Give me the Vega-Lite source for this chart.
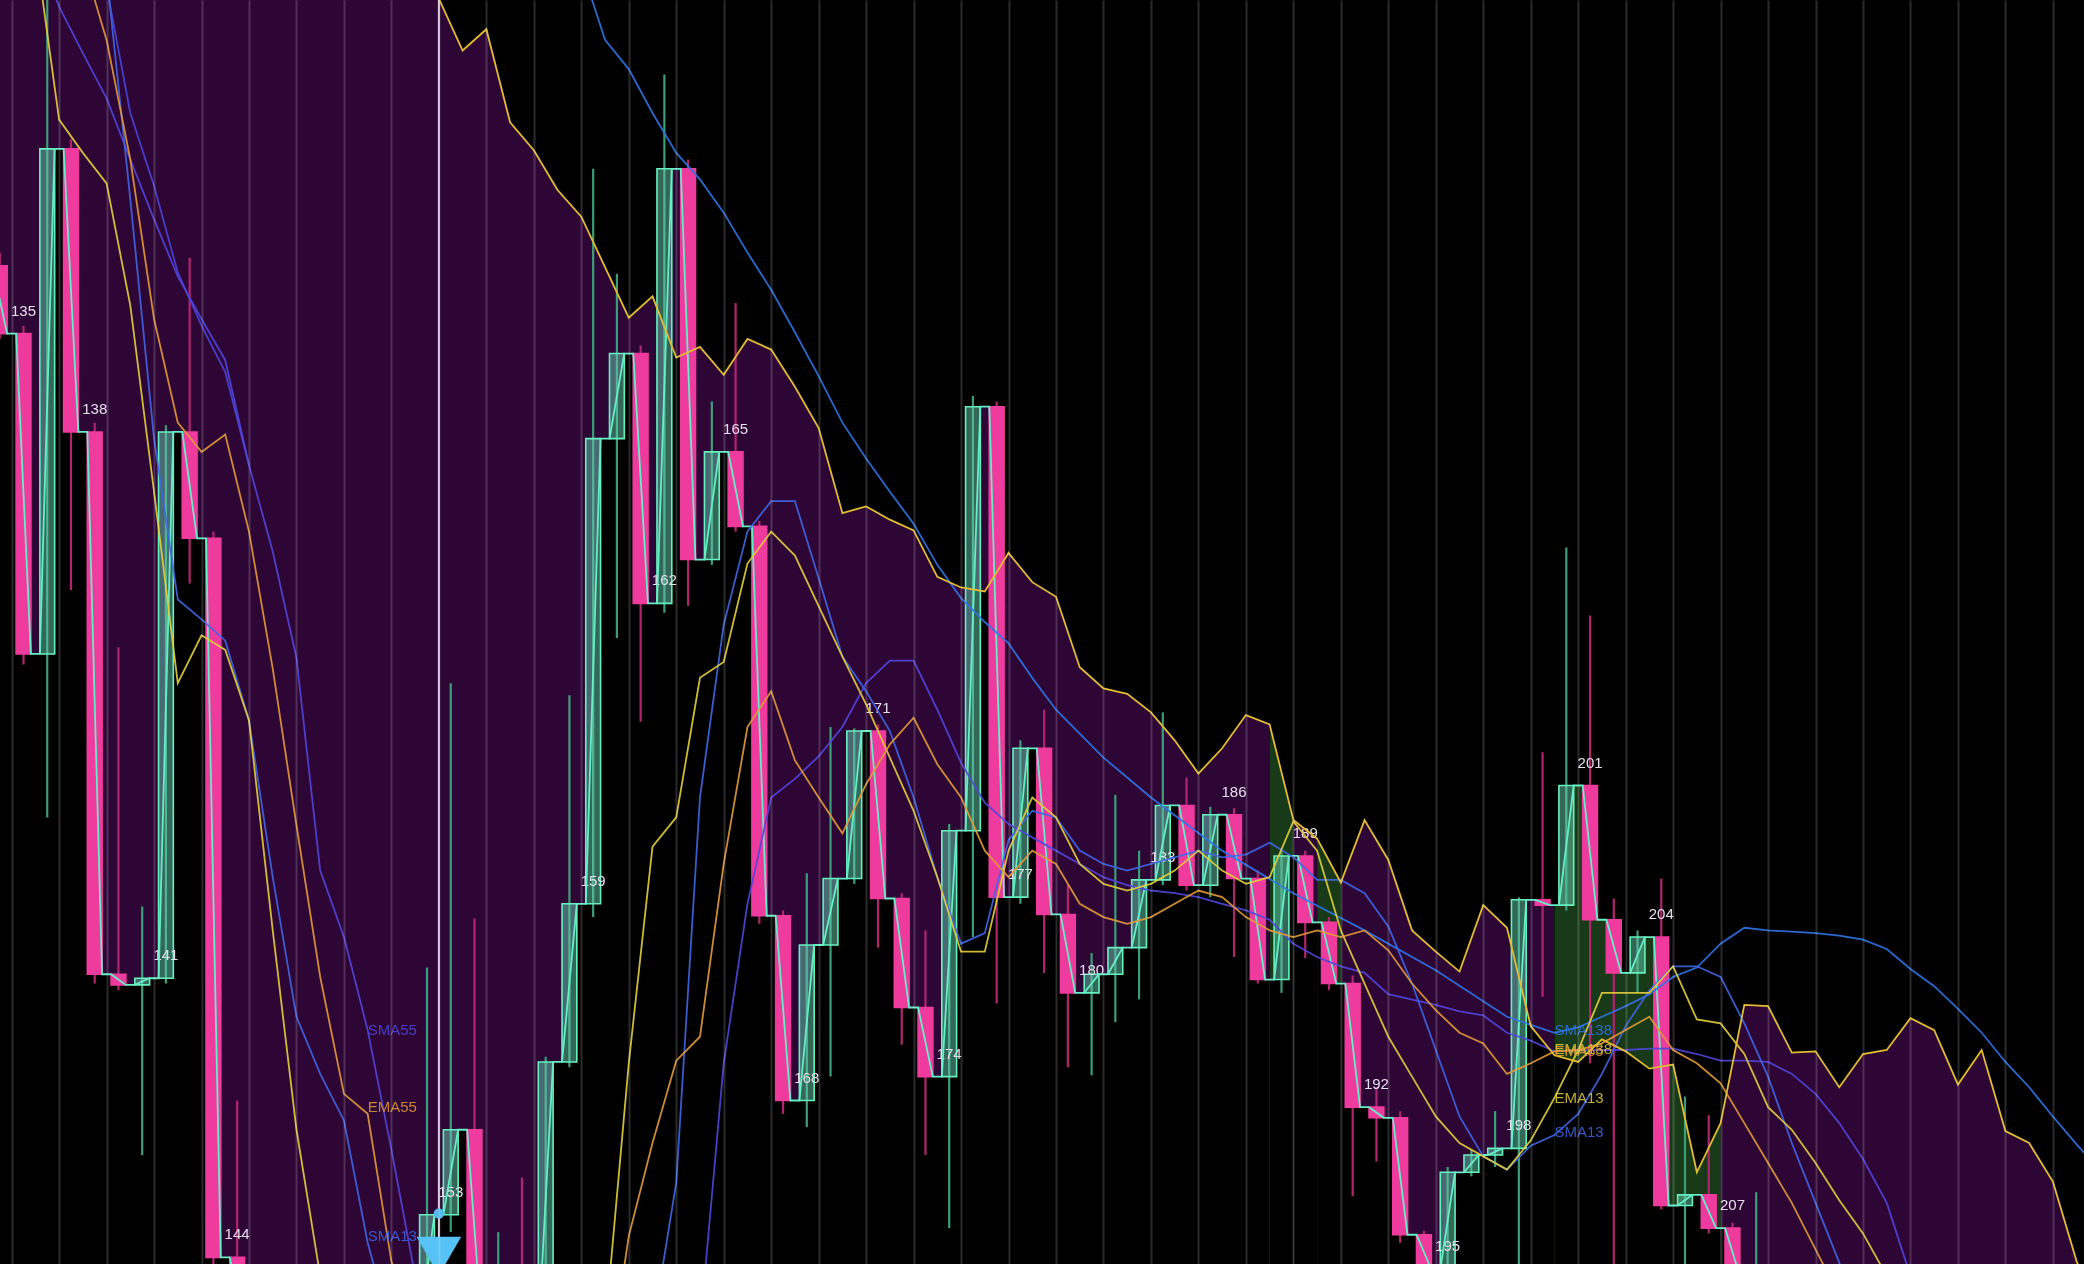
{
  "$schema": "https://vega.github.io/schema/vega-lite/v6.json",
  "width": 2084,
  "height": 1264,
  "autosize": "none",
  "padding": 0,
  "background": "#000000",
  "config": {"view": {"stroke": null, "fill": "#000000"}, "text": {"font": "Liberation Sans"}},
  "resolve": {"scale": {"color": "independent"}},
  "datasets": {
    "candles": [
      {"t":134,"o":751,"c":700,"h":761,"l":696},{"t":135,"o":700,"c":459,"h":706,"l":451},{"t":136,"o":459,"c":839,"h":981,"l":336},
      {"t":137,"o":839,"c":626,"h":846,"l":507},{"t":138,"o":626,"c":218,"h":633,"l":211},{"t":139,"o":218,"c":210,"h":464,"l":206},
      {"t":140,"o":210,"c":215,"h":269,"l":82},{"t":141,"o":215,"c":626,"h":631,"l":211},{"t":142,"o":626,"c":546,"h":757,"l":512},
      {"t":143,"o":546,"c":5,"h":551,"l":-1},{"t":144,"o":5,"c":-49,"h":123,"l":-59},{"t":145,"o":-49,"c":-79,"h":-39,"l":-89},
      {"t":146,"o":-79,"c":-59,"h":-49,"l":-89},{"t":147,"o":-59,"c":-99,"h":-54,"l":-109},{"t":148,"o":-99,"c":-84,"h":-74,"l":-109},
      {"t":149,"o":-84,"c":-114,"h":-79,"l":-124},{"t":150,"o":-114,"c":-89,"h":-84,"l":-119},{"t":151,"o":-89,"c":-49,"h":-39,"l":-99},
      {"t":152,"o":-49,"c":37,"h":223,"l":-59},{"t":153,"o":37,"c":101,"h":437,"l":24},{"t":154,"o":101,"c":-49,"h":260,"l":-59},
      {"t":155,"o":-49,"c":-34,"h":24,"l":-59},{"t":156,"o":-34,"c":-54,"h":65,"l":-64},{"t":157,"o":-54,"c":152,"h":156,"l":-59},
      {"t":158,"o":152,"c":271,"h":428,"l":148},{"t":159,"o":271,"c":621,"h":824,"l":261},{"t":160,"o":621,"c":685,"h":745,"l":471},
      {"t":161,"o":685,"c":497,"h":691,"l":408},{"t":162,"o":497,"c":824,"h":895,"l":490},{"t":163,"o":824,"c":530,"h":831,"l":495},
      {"t":164,"o":530,"c":611,"h":649,"l":526},{"t":165,"o":611,"c":555,"h":723,"l":551},{"t":166,"o":555,"c":262,"h":559,"l":256},
      {"t":167,"o":262,"c":123,"h":266,"l":113},{"t":168,"o":123,"c":240,"h":294,"l":103},{"t":169,"o":240,"c":290,"h":404,"l":141},
      {"t":170,"o":290,"c":401,"h":403,"l":286},{"t":171,"o":401,"c":275,"h":406,"l":238},{"t":172,"o":275,"c":193,"h":279,"l":165},
      {"t":173,"o":193,"c":141,"h":251,"l":82},{"t":174,"o":141,"c":326,"h":331,"l":27},{"t":175,"o":326,"c":645,"h":653,"l":246},
      {"t":176,"o":645,"c":276,"h":649,"l":196},{"t":177,"o":276,"c":388,"h":394,"l":271},{"t":178,"o":388,"c":263,"h":417,"l":219},
      {"t":179,"o":263,"c":204,"h":285,"l":148},{"t":180,"o":204,"c":218,"h":234,"l":142},{"t":181,"o":218,"c":238,"h":353,"l":182},
      {"t":182,"o":238,"c":289,"h":311,"l":199},{"t":183,"o":289,"c":345,"h":415,"l":285},{"t":184,"o":345,"c":285,"h":366,"l":281},
      {"t":185,"o":285,"c":338,"h":344,"l":276},{"t":186,"o":338,"c":290,"h":343,"l":231},{"t":187,"o":290,"c":214,"h":296,"l":211},
      {"t":188,"o":214,"c":307,"h":311,"l":204},{"t":189,"o":307,"c":257,"h":311,"l":230},{"t":190,"o":257,"c":211,"h":261,"l":206},
      {"t":191,"o":211,"c":118,"h":217,"l":51},{"t":192,"o":118,"c":110,"h":133,"l":77},{"t":193,"o":110,"c":22,"h":115,"l":16},
      {"t":194,"o":22,"c":-4,"h":25,"l":-49},{"t":195,"o":-4,"c":69,"h":73,"l":-9},{"t":196,"o":69,"c":82,"h":86,"l":66},
      {"t":197,"o":82,"c":87,"h":115,"l":73},{"t":198,"o":87,"c":274,"h":276,"l":-9},{"t":199,"o":274,"c":270,"h":385,"l":201},
      {"t":200,"o":270,"c":360,"h":539,"l":266},{"t":201,"o":360,"c":259,"h":488,"l":151},{"t":202,"o":259,"c":219,"h":275,"l":-9},
      {"t":203,"o":219,"c":246,"h":251,"l":204},{"t":204,"o":246,"c":44,"h":290,"l":41},{"t":205,"o":44,"c":52,"h":126,"l":-9},
      {"t":206,"o":52,"c":27,"h":112,"l":23},{"t":207,"o":27,"c":-9,"h":31,"l":-19},{"t":208,"o":-9,"c":-4,"h":54,"l":-39}
    ],
    "close": [
      {"t":133.69,"v":751,"r":"A"},{"t":134.31,"v":700,"r":"A"},{"t":134.69,"v":700,"r":"A"},{"t":135.31,"v":459,"r":"A"},
      {"t":135.69,"v":459,"r":"A"},{"t":136.31,"v":839,"r":"A"},{"t":136.69,"v":839,"r":"A"},{"t":137.31,"v":626,"r":"A"},
      {"t":137.69,"v":626,"r":"A"},{"t":138.31,"v":218,"r":"A"},{"t":138.69,"v":218,"r":"A"},{"t":139.31,"v":210,"r":"A"},
      {"t":139.69,"v":210,"r":"A"},{"t":140.31,"v":215,"r":"A"},{"t":140.69,"v":215,"r":"A"},{"t":141.31,"v":626,"r":"A"},
      {"t":141.69,"v":626,"r":"A"},{"t":142.31,"v":546,"r":"A"},{"t":142.69,"v":546,"r":"A"},{"t":143.31,"v":5,"r":"A"},
      {"t":143.69,"v":5,"r":"A"},{"t":144.31,"v":-49,"r":"A"},{"t":144.69,"v":-49,"r":"A"},{"t":145.31,"v":-79,"r":"A"},
      {"t":145.69,"v":-79,"r":"A"},{"t":146.31,"v":-59,"r":"A"},{"t":146.69,"v":-59,"r":"A"},{"t":147.31,"v":-99,"r":"A"},
      {"t":147.69,"v":-99,"r":"A"},{"t":148.31,"v":-84,"r":"A"},{"t":148.69,"v":-84,"r":"A"},{"t":149.31,"v":-114,"r":"A"},
      {"t":149.69,"v":-114,"r":"A"},{"t":150.31,"v":-89,"r":"A"},{"t":150.69,"v":-89,"r":"A"},{"t":151.31,"v":-49,"r":"A"},
      {"t":151.69,"v":-49,"r":"A"},{"t":152.31,"v":37,"r":"A"},{"t":152.69,"v":37,"r":"A"},{"t":153.31,"v":101,"r":"A"},
      {"t":153.69,"v":101,"r":"A"},{"t":154.31,"v":-49,"r":"A"},{"t":154.69,"v":-49,"r":"A"},{"t":155.31,"v":-34,"r":"A"},
      {"t":155.69,"v":-34,"r":"A"},{"t":156.31,"v":-54,"r":"A"},{"t":156.69,"v":-54,"r":"A"},{"t":157.31,"v":152,"r":"A"},
      {"t":157.69,"v":152,"r":"A"},{"t":158.31,"v":271,"r":"A"},{"t":158.69,"v":271,"r":"A"},{"t":159.31,"v":621,"r":"A"},
      {"t":159.69,"v":621,"r":"A"},{"t":160.31,"v":685,"r":"A"},{"t":160.69,"v":685,"r":"A"},{"t":161.31,"v":497,"r":"A"},
      {"t":161.69,"v":497,"r":"A"},{"t":162.31,"v":824,"r":"A"},{"t":162.69,"v":824,"r":"A"},{"t":163.31,"v":530,"r":"A"},
      {"t":163.69,"v":530,"r":"A"},{"t":164.31,"v":611,"r":"A"},{"t":164.69,"v":611,"r":"A"},{"t":165.31,"v":555,"r":"A"},
      {"t":165.69,"v":555,"r":"A"},{"t":166.31,"v":262,"r":"A"},{"t":166.69,"v":262,"r":"A"},{"t":167.31,"v":123,"r":"A"},
      {"t":167.69,"v":123,"r":"A"},{"t":168.31,"v":240,"r":"A"},{"t":168.69,"v":240,"r":"A"},{"t":169.31,"v":290,"r":"A"},
      {"t":169.69,"v":290,"r":"A"},{"t":170.31,"v":401,"r":"A"},{"t":170.69,"v":401,"r":"A"},{"t":171.31,"v":275,"r":"A"},
      {"t":171.69,"v":275,"r":"A"},{"t":172.31,"v":193,"r":"A"},{"t":172.69,"v":193,"r":"A"},{"t":173.31,"v":141,"r":"A"},
      {"t":173.69,"v":141,"r":"A"},{"t":174.31,"v":326,"r":"A"},{"t":174.69,"v":326,"r":"A"},{"t":175.31,"v":645,"r":"A"},
      {"t":175.69,"v":645,"r":"A"},{"t":176.31,"v":276,"r":"A"},{"t":176.69,"v":276,"r":"A"},{"t":177.31,"v":388,"r":"A"},
      {"t":177.69,"v":388,"r":"A"},{"t":178.31,"v":263,"r":"A"},{"t":178.69,"v":263,"r":"A"},{"t":179.31,"v":204,"r":"A"},
      {"t":179.69,"v":204,"r":"A"},{"t":180.31,"v":218,"r":"A"},{"t":180.69,"v":218,"r":"A"},{"t":181.31,"v":238,"r":"A"},
      {"t":181.69,"v":238,"r":"A"},{"t":182.31,"v":289,"r":"A"},{"t":182.69,"v":289,"r":"A"},{"t":183.31,"v":345,"r":"A"},
      {"t":183.69,"v":345,"r":"A"},{"t":184.31,"v":285,"r":"A"},{"t":184.69,"v":285,"r":"A"},{"t":185.31,"v":338,"r":"A"},
      {"t":185.69,"v":338,"r":"A"},{"t":186.31,"v":290,"r":"A"},{"t":186.69,"v":290,"r":"A"},{"t":187.31,"v":214,"r":"A"},
      {"t":187.5,"v":214,"r":"A"},
      {"t":187.5,"v":214,"r":"B"},{"t":187.69,"v":214,"r":"B"},{"t":188.31,"v":307,"r":"B"},{"t":188.5,"v":307,"r":"B"},
      {"t":188.5,"v":307,"r":"C"},{"t":188.69,"v":307,"r":"C"},{"t":189.31,"v":257,"r":"C"},{"t":189.5,"v":257,"r":"C"},
      {"t":189.5,"v":257,"r":"D"},{"t":189.69,"v":257,"r":"D"},{"t":190.31,"v":211,"r":"D"},{"t":190.5,"v":211,"r":"D"},
      {"t":190.5,"v":211,"r":"E"},{"t":190.69,"v":211,"r":"E"},{"t":191.31,"v":118,"r":"E"},{"t":191.69,"v":118,"r":"E"},
      {"t":192.31,"v":110,"r":"E"},{"t":192.69,"v":110,"r":"E"},{"t":193.31,"v":22,"r":"E"},{"t":193.69,"v":22,"r":"E"},
      {"t":194.31,"v":-4,"r":"E"},{"t":194.69,"v":-4,"r":"E"},{"t":195.31,"v":69,"r":"E"},{"t":195.69,"v":69,"r":"E"},
      {"t":196.31,"v":82,"r":"E"},{"t":196.69,"v":82,"r":"E"},{"t":197.31,"v":87,"r":"E"},{"t":197.69,"v":87,"r":"E"},
      {"t":198.31,"v":274,"r":"E"},{"t":198.69,"v":274,"r":"E"},{"t":199.31,"v":270,"r":"E"},{"t":199.5,"v":270,"r":"E"},
      {"t":199.5,"v":270,"r":"F"},{"t":199.69,"v":270,"r":"F"},{"t":200.31,"v":360,"r":"F"},{"t":200.69,"v":360,"r":"F"},
      {"t":201.31,"v":259,"r":"F"},{"t":201.69,"v":259,"r":"F"},{"t":202.31,"v":219,"r":"F"},{"t":202.69,"v":219,"r":"F"},
      {"t":203.31,"v":246,"r":"F"},{"t":203.69,"v":246,"r":"F"},{"t":204.31,"v":44,"r":"F"},{"t":204.69,"v":44,"r":"F"},
      {"t":205.31,"v":52,"r":"F"},{"t":205.69,"v":52,"r":"F"},{"t":206.31,"v":27,"r":"F"},{"t":206.5,"v":27,"r":"F"},
      {"t":206.5,"v":27,"r":"G"},{"t":206.69,"v":27,"r":"G"},{"t":207.31,"v":-9,"r":"G"},{"t":207.69,"v":-9,"r":"G"},
      {"t":208.31,"v":-4,"r":"G"}
    ],
    "cloud": [
      {"t":133.5,"v":1351,"r":"A"},{"t":134.5,"v":1321,"r":"A"},{"t":135.5,"v":1291,"r":"A"},{"t":136.5,"v":1261,"r":"A"},
      {"t":137.5,"v":1231,"r":"A"},{"t":138.5,"v":1201,"r":"A"},{"t":139.5,"v":1171,"r":"A"},{"t":140.5,"v":1146,"r":"A"},
      {"t":141.5,"v":1121,"r":"A"},{"t":142.5,"v":1101,"r":"A"},{"t":143.5,"v":1081,"r":"A"},{"t":144.5,"v":1061,"r":"A"},
      {"t":145.5,"v":1046,"r":"A"},{"t":146.5,"v":1031,"r":"A"},{"t":147.5,"v":1016,"r":"A"},{"t":148.5,"v":1001,"r":"A"},
      {"t":149.5,"v":989,"r":"A"},{"t":150.5,"v":976,"r":"A"},{"t":151.5,"v":963,"r":"A"},{"t":152.5,"v":952,"r":"A"},
      {"t":153.5,"v":913,"r":"A"},{"t":154.5,"v":929,"r":"A"},{"t":155.5,"v":859,"r":"A"},{"t":156.5,"v":838,"r":"A"},
      {"t":157.5,"v":808,"r":"A"},{"t":158.5,"v":788,"r":"A"},{"t":159.5,"v":750,"r":"A"},{"t":160.5,"v":712,"r":"A"},
      {"t":161.5,"v":728,"r":"A"},{"t":162.5,"v":682,"r":"A"},{"t":163.5,"v":690,"r":"A"},{"t":164.5,"v":669,"r":"A"},
      {"t":165.5,"v":696,"r":"A"},{"t":166.5,"v":688,"r":"A"},{"t":167.5,"v":660,"r":"A"},{"t":168.5,"v":629,"r":"A"},
      {"t":169.5,"v":565,"r":"A"},{"t":170.5,"v":570,"r":"A"},{"t":171.5,"v":560,"r":"A"},{"t":172.5,"v":552,"r":"A"},
      {"t":173.5,"v":517,"r":"A"},{"t":174.5,"v":509,"r":"A"},{"t":175.5,"v":506,"r":"A"},{"t":176.5,"v":535,"r":"A"},
      {"t":177.5,"v":513,"r":"A"},{"t":178.5,"v":502,"r":"A"},{"t":179.5,"v":449,"r":"A"},{"t":180.5,"v":433,"r":"A"},
      {"t":181.5,"v":429,"r":"A"},{"t":182.5,"v":415,"r":"A"},{"t":183.5,"v":394,"r":"A"},{"t":184.5,"v":369,"r":"A"},
      {"t":185.5,"v":388,"r":"A"},{"t":186.5,"v":413,"r":"A"},{"t":187.5,"v":406,"r":"A"},
      {"t":187.5,"v":406,"r":"B"},{"t":188.5,"v":334,"r":"B"},
      {"t":188.5,"v":334,"r":"C"},{"t":189.5,"v":320,"r":"C"},
      {"t":189.5,"v":320,"r":"D"},{"t":190.5,"v":287,"r":"D"},
      {"t":190.5,"v":287,"r":"E"},{"t":191.5,"v":334,"r":"E"},{"t":192.5,"v":304,"r":"E"},{"t":193.5,"v":251,"r":"E"},
      {"t":194.5,"v":235,"r":"E"},{"t":195.5,"v":220,"r":"E"},{"t":196.5,"v":270,"r":"E"},{"t":197.5,"v":253,"r":"E"},
      {"t":198.5,"v":179,"r":"E"},{"t":199.5,"v":157,"r":"E"},
      {"t":199.5,"v":157,"r":"F"},{"t":200.5,"v":152,"r":"F"},{"t":201.5,"v":169,"r":"F"},{"t":202.5,"v":160,"r":"F"},
      {"t":203.5,"v":147,"r":"F"},{"t":204.5,"v":150,"r":"F"},{"t":205.5,"v":69,"r":"F"},{"t":206.5,"v":106,"r":"F"},
      {"t":206.5,"v":106,"r":"G"},{"t":207.5,"v":195,"r":"G"},{"t":208.5,"v":194,"r":"G"},{"t":209.5,"v":159,"r":"G"},
      {"t":210.5,"v":160,"r":"G"},{"t":211.5,"v":133,"r":"G"},{"t":212.5,"v":158,"r":"G"},{"t":213.5,"v":161,"r":"G"},
      {"t":214.5,"v":185,"r":"G"},{"t":215.5,"v":176,"r":"G"},{"t":216.5,"v":135,"r":"G"},{"t":217.5,"v":161,"r":"G"},
      {"t":218.5,"v":100,"r":"G"},{"t":219.5,"v":91,"r":"G"},{"t":220.5,"v":62,"r":"G"},{"t":221.5,"v":2,"r":"G"},
      {"t":222.5,"v":-39,"r":"G"}
    ],
    "ma": [
      {"s":"SMA138","t":158.5,"v":976},{"s":"SMA138","t":159.5,"v":921},{"s":"SMA138","t":160.5,"v":899},{"s":"SMA138","t":161.5,"v":866},
      {"s":"SMA138","t":162.5,"v":836},{"s":"SMA138","t":163.5,"v":816},{"s":"SMA138","t":164.5,"v":791},{"s":"SMA138","t":165.5,"v":761},
      {"s":"SMA138","t":166.5,"v":733},{"s":"SMA138","t":167.5,"v":701},{"s":"SMA138","t":168.5,"v":668},{"s":"SMA138","t":169.5,"v":633},
      {"s":"SMA138","t":170.5,"v":606},{"s":"SMA138","t":171.5,"v":581},{"s":"SMA138","t":172.5,"v":557},{"s":"SMA138","t":173.5,"v":526},
      {"s":"SMA138","t":174.5,"v":501},{"s":"SMA138","t":175.5,"v":483},{"s":"SMA138","t":176.5,"v":467},{"s":"SMA138","t":177.5,"v":441},
      {"s":"SMA138","t":178.5,"v":417},{"s":"SMA138","t":179.5,"v":399},{"s":"SMA138","t":180.5,"v":381},{"s":"SMA138","t":181.5,"v":366},
      {"s":"SMA138","t":182.5,"v":351},{"s":"SMA138","t":185.5,"v":311},{"s":"SMA138","t":188.5,"v":279},{"s":"SMA138","t":191.5,"v":251},
      {"s":"SMA138","t":194.5,"v":221},{"s":"SMA138","t":197.5,"v":186},{"s":"SMA138","t":199.5,"v":174},{"s":"SMA138","t":200.5,"v":178},
      {"s":"SMA138","t":201.5,"v":186},{"s":"SMA138","t":202.5,"v":194},{"s":"SMA138","t":203.5,"v":203},{"s":"SMA138","t":204.5,"v":216},
      {"s":"SMA138","t":205.5,"v":223},{"s":"SMA138","t":206.5,"v":241},{"s":"SMA138","t":207.5,"v":253},{"s":"SMA138","t":208.5,"v":251},
      {"s":"SMA138","t":209.5,"v":250},{"s":"SMA138","t":210.5,"v":249},{"s":"SMA138","t":211.5,"v":247},{"s":"SMA138","t":212.5,"v":244},
      {"s":"SMA138","t":213.5,"v":237},{"s":"SMA138","t":214.5,"v":222},{"s":"SMA138","t":215.5,"v":209},{"s":"SMA138","t":216.5,"v":192},
      {"s":"SMA138","t":217.5,"v":174},{"s":"SMA138","t":218.5,"v":152},{"s":"SMA138","t":219.5,"v":133},{"s":"SMA138","t":220.5,"v":111},
      {"s":"SMA138","t":221.5,"v":90},{"s":"SMA138","t":222.5,"v":70},

      {"s":"SMA34","t":138.5,"v":961},{"s":"SMA34","t":139.5,"v":866},{"s":"SMA34","t":140.5,"v":811},{"s":"SMA34","t":141.5,"v":746},
      {"s":"SMA34","t":142.5,"v":706},{"s":"SMA34","t":143.5,"v":671},{"s":"SMA34","t":144.5,"v":601},

      {"s":"SMA55","t":135.5,"v":991},{"s":"SMA55","t":136.5,"v":946},{"s":"SMA55","t":137.5,"v":911},{"s":"SMA55","t":138.5,"v":877},
      {"s":"SMA55","t":139.5,"v":831},{"s":"SMA55","t":140.5,"v":786},{"s":"SMA55","t":141.5,"v":743},{"s":"SMA55","t":142.5,"v":711},
      {"s":"SMA55","t":143.5,"v":680},{"s":"SMA55","t":144.5,"v":601},{"s":"SMA55","t":145.5,"v":536},{"s":"SMA55","t":146.5,"v":456},
      {"s":"SMA55","t":147.5,"v":296},{"s":"SMA55","t":148.5,"v":246},{"s":"SMA55","t":149.5,"v":176},{"s":"SMA55","t":150.5,"v":86},
      {"s":"SMA55","t":151.5,"v":-9},{"s":"SMA55","t":155.5,"v":-149},{"s":"SMA55","t":160.5,"v":-149},{"s":"SMA55","t":163.5,"v":-49},
      {"s":"SMA55","t":164.5,"v":151},{"s":"SMA55","t":165.5,"v":271},{"s":"SMA55","t":166.5,"v":351},{"s":"SMA55","t":167.5,"v":365},
      {"s":"SMA55","t":168.5,"v":382},{"s":"SMA55","t":169.5,"v":404},{"s":"SMA55","t":170.5,"v":437},{"s":"SMA55","t":171.5,"v":454},
      {"s":"SMA55","t":172.5,"v":454},{"s":"SMA55","t":173.5,"v":417},{"s":"SMA55","t":174.5,"v":377},{"s":"SMA55","t":175.5,"v":347},
      {"s":"SMA55","t":176.5,"v":331},{"s":"SMA55","t":177.5,"v":321},{"s":"SMA55","t":178.5,"v":311},{"s":"SMA55","t":179.5,"v":301},
      {"s":"SMA55","t":180.5,"v":291},{"s":"SMA55","t":181.5,"v":285},{"s":"SMA55","t":182.5,"v":281},{"s":"SMA55","t":183.5,"v":279},
      {"s":"SMA55","t":184.5,"v":276},{"s":"SMA55","t":185.5,"v":271},{"s":"SMA55","t":186.5,"v":266},{"s":"SMA55","t":187.5,"v":259},
      {"s":"SMA55","t":188.5,"v":241},{"s":"SMA55","t":189.5,"v":231},{"s":"SMA55","t":190.5,"v":224},{"s":"SMA55","t":191.5,"v":219},
      {"s":"SMA55","t":192.5,"v":203},{"s":"SMA55","t":193.5,"v":199},{"s":"SMA55","t":194.5,"v":195},{"s":"SMA55","t":195.5,"v":190},
      {"s":"SMA55","t":196.5,"v":187},{"s":"SMA55","t":197.5,"v":174},{"s":"SMA55","t":198.5,"v":168},{"s":"SMA55","t":199.5,"v":160},
      {"s":"SMA55","t":200.5,"v":161},{"s":"SMA55","t":201.5,"v":161},{"s":"SMA55","t":202.5,"v":161},{"s":"SMA55","t":203.5,"v":162},
      {"s":"SMA55","t":204.5,"v":162},{"s":"SMA55","t":205.5,"v":158},{"s":"SMA55","t":206.5,"v":153},{"s":"SMA55","t":207.5,"v":153},
      {"s":"SMA55","t":208.5,"v":152},{"s":"SMA55","t":209.5,"v":143},{"s":"SMA55","t":210.5,"v":128},{"s":"SMA55","t":211.5,"v":106},
      {"s":"SMA55","t":212.5,"v":79},{"s":"SMA55","t":213.5,"v":46},{"s":"SMA55","t":214.5,"v":-9},

      {"s":"SMA13","t":138.5,"v":971},{"s":"SMA13","t":139.5,"v":801},{"s":"SMA13","t":140.5,"v":621},{"s":"SMA13","t":141.5,"v":500},
      {"s":"SMA13","t":142.5,"v":485},{"s":"SMA13","t":143.5,"v":469},{"s":"SMA13","t":144.5,"v":409},{"s":"SMA13","t":145.5,"v":291},
      {"s":"SMA13","t":146.5,"v":186},{"s":"SMA13","t":147.5,"v":143},{"s":"SMA13","t":148.5,"v":108},{"s":"SMA13","t":149.5,"v":16},
      {"s":"SMA13","t":150.5,"v":-49},{"s":"SMA13","t":155.5,"v":-149},{"s":"SMA13","t":161.5,"v":-49},{"s":"SMA13","t":162.5,"v":61},
      {"s":"SMA13","t":163.5,"v":351},{"s":"SMA13","t":164.5,"v":481},{"s":"SMA13","t":165.5,"v":551},{"s":"SMA13","t":166.5,"v":574},
      {"s":"SMA13","t":167.5,"v":574},{"s":"SMA13","t":168.5,"v":516},{"s":"SMA13","t":169.5,"v":457},{"s":"SMA13","t":170.5,"v":431},
      {"s":"SMA13","t":171.5,"v":401},{"s":"SMA13","t":172.5,"v":351},{"s":"SMA13","t":173.5,"v":291},{"s":"SMA13","t":174.5,"v":241},
      {"s":"SMA13","t":175.5,"v":249},{"s":"SMA13","t":176.5,"v":319},{"s":"SMA13","t":177.5,"v":341},{"s":"SMA13","t":178.5,"v":336},
      {"s":"SMA13","t":179.5,"v":311},{"s":"SMA13","t":180.5,"v":301},{"s":"SMA13","t":181.5,"v":296},{"s":"SMA13","t":182.5,"v":301},
      {"s":"SMA13","t":183.5,"v":306},{"s":"SMA13","t":184.5,"v":311},{"s":"SMA13","t":185.5,"v":306},{"s":"SMA13","t":186.5,"v":308},
      {"s":"SMA13","t":187.5,"v":317},{"s":"SMA13","t":188.5,"v":306},{"s":"SMA13","t":189.5,"v":289},{"s":"SMA13","t":190.5,"v":289},
      {"s":"SMA13","t":191.5,"v":279},{"s":"SMA13","t":192.5,"v":254},{"s":"SMA13","t":193.5,"v":211},{"s":"SMA13","t":194.5,"v":161},
      {"s":"SMA13","t":195.5,"v":111},{"s":"SMA13","t":196.5,"v":81},{"s":"SMA13","t":197.5,"v":71},{"s":"SMA13","t":198.5,"v":89},
      {"s":"SMA13","t":199.5,"v":97},{"s":"SMA13","t":200.5,"v":113},{"s":"SMA13","t":201.5,"v":143},{"s":"SMA13","t":202.5,"v":179},
      {"s":"SMA13","t":203.5,"v":206},{"s":"SMA13","t":204.5,"v":224},{"s":"SMA13","t":205.5,"v":224},{"s":"SMA13","t":206.5,"v":216},
      {"s":"SMA13","t":207.5,"v":181},{"s":"SMA13","t":208.5,"v":141},{"s":"SMA13","t":209.5,"v":91},{"s":"SMA13","t":210.5,"v":46},
      {"s":"SMA13","t":211.5,"v":1},{"s":"SMA13","t":212.5,"v":-49},

      {"s":"EMA13","t":135.5,"v":991},{"s":"EMA13","t":136.5,"v":861},{"s":"EMA13","t":137.5,"v":836},{"s":"EMA13","t":138.5,"v":813},
      {"s":"EMA13","t":139.5,"v":721},{"s":"EMA13","t":140.5,"v":581},{"s":"EMA13","t":141.5,"v":437},{"s":"EMA13","t":142.5,"v":473},
      {"s":"EMA13","t":143.5,"v":462},{"s":"EMA13","t":144.5,"v":409},{"s":"EMA13","t":145.5,"v":251},{"s":"EMA13","t":146.5,"v":101},
      {"s":"EMA13","t":147.5,"v":-9},{"s":"EMA13","t":153.5,"v":-149},{"s":"EMA13","t":159.5,"v":-49},{"s":"EMA13","t":160.5,"v":151},
      {"s":"EMA13","t":161.5,"v":314},{"s":"EMA13","t":162.5,"v":336},{"s":"EMA13","t":163.5,"v":441},{"s":"EMA13","t":164.5,"v":453},
      {"s":"EMA13","t":165.5,"v":527},{"s":"EMA13","t":166.5,"v":551},{"s":"EMA13","t":167.5,"v":533},{"s":"EMA13","t":168.5,"v":495},
      {"s":"EMA13","t":169.5,"v":457},{"s":"EMA13","t":170.5,"v":421},{"s":"EMA13","t":171.5,"v":381},{"s":"EMA13","t":172.5,"v":341},
      {"s":"EMA13","t":173.5,"v":291},{"s":"EMA13","t":174.5,"v":235},{"s":"EMA13","t":175.5,"v":235},{"s":"EMA13","t":176.5,"v":311},
      {"s":"EMA13","t":177.5,"v":351},{"s":"EMA13","t":178.5,"v":336},{"s":"EMA13","t":179.5,"v":301},{"s":"EMA13","t":180.5,"v":286},
      {"s":"EMA13","t":181.5,"v":281},{"s":"EMA13","t":182.5,"v":286},{"s":"EMA13","t":183.5,"v":296},{"s":"EMA13","t":184.5,"v":311},
      {"s":"EMA13","t":185.5,"v":296},{"s":"EMA13","t":186.5,"v":286},{"s":"EMA13","t":187.5,"v":291},{"s":"EMA13","t":188.5,"v":333},
      {"s":"EMA13","t":189.5,"v":311},{"s":"EMA13","t":190.5,"v":251},{"s":"EMA13","t":191.5,"v":211},{"s":"EMA13","t":192.5,"v":171},
      {"s":"EMA13","t":193.5,"v":141},{"s":"EMA13","t":194.5,"v":111},{"s":"EMA13","t":195.5,"v":91},{"s":"EMA13","t":196.5,"v":81},
      {"s":"EMA13","t":197.5,"v":71},{"s":"EMA13","t":198.5,"v":93},{"s":"EMA13","t":199.5,"v":125},{"s":"EMA13","t":200.5,"v":161},
      {"s":"EMA13","t":201.5,"v":204},{"s":"EMA13","t":202.5,"v":204},{"s":"EMA13","t":203.5,"v":204},{"s":"EMA13","t":204.5,"v":224},
      {"s":"EMA13","t":205.5,"v":184},{"s":"EMA13","t":206.5,"v":181},{"s":"EMA13","t":207.5,"v":158},{"s":"EMA13","t":208.5,"v":118},
      {"s":"EMA13","t":209.5,"v":101},{"s":"EMA13","t":210.5,"v":76},{"s":"EMA13","t":211.5,"v":48},{"s":"EMA13","t":212.5,"v":23},
      {"s":"EMA13","t":213.5,"v":-9},

      {"s":"EMA55","t":137.5,"v":981},{"s":"EMA55","t":138.5,"v":921},{"s":"EMA55","t":139.5,"v":831},{"s":"EMA55","t":140.5,"v":711},
      {"s":"EMA55","t":141.5,"v":633},{"s":"EMA55","t":142.5,"v":611},{"s":"EMA55","t":143.5,"v":624},{"s":"EMA55","t":144.5,"v":551},
      {"s":"EMA55","t":145.5,"v":448},{"s":"EMA55","t":146.5,"v":330},{"s":"EMA55","t":147.5,"v":216},{"s":"EMA55","t":148.5,"v":128},
      {"s":"EMA55","t":149.5,"v":113},{"s":"EMA55","t":150.5,"v":2},{"s":"EMA55","t":151.5,"v":-49},{"s":"EMA55","t":155.5,"v":-149},
      {"s":"EMA55","t":159.5,"v":-99},{"s":"EMA55","t":160.5,"v":21},{"s":"EMA55","t":161.5,"v":91},{"s":"EMA55","t":162.5,"v":153},
      {"s":"EMA55","t":163.5,"v":171},{"s":"EMA55","t":164.5,"v":301},{"s":"EMA55","t":165.5,"v":404},{"s":"EMA55","t":166.5,"v":431},
      {"s":"EMA55","t":167.5,"v":379},{"s":"EMA55","t":168.5,"v":351},{"s":"EMA55","t":169.5,"v":324},{"s":"EMA55","t":170.5,"v":361},
      {"s":"EMA55","t":171.5,"v":391},{"s":"EMA55","t":172.5,"v":411},{"s":"EMA55","t":173.5,"v":376},{"s":"EMA55","t":174.5,"v":351},
      {"s":"EMA55","t":175.5,"v":311},{"s":"EMA55","t":176.5,"v":291},{"s":"EMA55","t":177.5,"v":311},{"s":"EMA55","t":178.5,"v":301},
      {"s":"EMA55","t":179.5,"v":271},{"s":"EMA55","t":180.5,"v":261},{"s":"EMA55","t":181.5,"v":256},{"s":"EMA55","t":182.5,"v":261},
      {"s":"EMA55","t":183.5,"v":271},{"s":"EMA55","t":184.5,"v":281},{"s":"EMA55","t":185.5,"v":276},{"s":"EMA55","t":186.5,"v":261},
      {"s":"EMA55","t":187.5,"v":251},{"s":"EMA55","t":188.5,"v":246},{"s":"EMA55","t":189.5,"v":251},{"s":"EMA55","t":190.5,"v":246},
      {"s":"EMA55","t":191.5,"v":251},{"s":"EMA55","t":192.5,"v":236},{"s":"EMA55","t":193.5,"v":211},{"s":"EMA55","t":194.5,"v":191},
      {"s":"EMA55","t":195.5,"v":174},{"s":"EMA55","t":196.5,"v":166},{"s":"EMA55","t":197.5,"v":143},{"s":"EMA55","t":198.5,"v":151},
      {"s":"EMA55","t":199.5,"v":160},{"s":"EMA55","t":200.5,"v":161},{"s":"EMA55","t":201.5,"v":166},{"s":"EMA55","t":202.5,"v":176},
      {"s":"EMA55","t":203.5,"v":186},{"s":"EMA55","t":204.5,"v":161},{"s":"EMA55","t":205.5,"v":151},{"s":"EMA55","t":206.5,"v":136},
      {"s":"EMA55","t":207.5,"v":106},{"s":"EMA55","t":208.5,"v":76},{"s":"EMA55","t":209.5,"v":46},{"s":"EMA55","t":210.5,"v":11},
      {"s":"EMA55","t":211.5,"v":-24}
    ],
    "malabels": [
      {"s":"SMA55","t":149.5,"v":176},{"s":"EMA55","t":149.5,"v":118},{"s":"SMA13","t":149.5,"v":21},
      {"s":"SMA138","t":199.5,"v":176},{"s":"EMA138","t":199.5,"v":162},{"s":"EMA55","t":199.5,"v":160},
      {"s":"EMA13","t":199.5,"v":125},{"s":"SMA13","t":199.5,"v":99}
    ],
    "signal": [{"t":152.5,"v":38,"base":6}]
  },
  "layer": [
    {
      "data": {"name": "cloud"},
      "mark": {"type": "area", "blend": "difference", "clip": false},
      "encoding": {
        "x": {"field": "t", "type": "quantitative", "scale": {"domain": [134.22, 221.6], "nice": false, "zero": false},
          "axis": {"values": [134.5,135.5,136.5,137.5,138.5,139.5,140.5,141.5,142.5,143.5,144.5,145.5,146.5,147.5,148.5,149.5,150.5,151.5,152.5,153.5,154.5,155.5,156.5,157.5,158.5,159.5,160.5,161.5,162.5,163.5,164.5,165.5,166.5,167.5,168.5,169.5,170.5,171.5,172.5,173.5,174.5,175.5,176.5,177.5,178.5,179.5,180.5,181.5,182.5,183.5,184.5,185.5,186.5,187.5,188.5,189.5,190.5,191.5,192.5,193.5,194.5,195.5,196.5,197.5,198.5,199.5,200.5,201.5,202.5,203.5,204.5,205.5,206.5,207.5,208.5,209.5,210.5,211.5,212.5,213.5,214.5,215.5,216.5,217.5,218.5,219.5,220.5,221.5],
            "grid": true, "gridColor": "#ffffff", "gridOpacity": 0.17, "gridWidth": 2, "labels": false, "ticks": false, "domain": false, "title": null, "zindex": 1, "minExtent": 0, "maxExtent": 0}},
        "y": {"field": "v", "type": "quantitative", "scale": {"domain": [0, 951], "nice": false, "zero": false}, "axis": null, "stack": null},
        "y2": {"datum": 0},
        "color": {"field": "r", "type": "nominal", "legend": null,
          "scale": {"domain": ["A","B","C","D","E","F","G"], "range": ["#2e0636","#183a18","#2e0636","#183a18","#2e0636","#183a18","#2e0636"]}}
      }
    },
    {
      "data": {"name": "close"},
      "mark": {"type": "area", "blend": "difference", "clip": false},
      "encoding": {
        "x": {"field": "t", "type": "quantitative"},
        "y": {"field": "v", "type": "quantitative", "stack": null},
        "y2": {"datum": 0},
        "color": {"field": "r", "type": "nominal", "legend": null,
          "scale": {"domain": ["A","B","C","D","E","F","G"], "range": ["#2e0636","#183a18","#2e0636","#183a18","#2e0636","#183a18","#2e0636"]}}
      }
    },
    {
      "data": {"name": "candles"},
      "mark": {"type": "rule", "strokeWidth": 2.2},
      "encoding": {
        "x": {"field": "t", "type": "quantitative"},
        "y": {"field": "h", "type": "quantitative"},
        "y2": {"field": "l"},
        "color": {"condition": {"test": "datum.c > datum.o", "value": "#3a9f78"}, "value": "#b3246f"}
      }
    },
    {
      "data": {"name": "candles"},
      "mark": {"type": "bar", "width": 14.8, "strokeWidth": 1.6},
      "encoding": {
        "x": {"field": "t", "type": "quantitative"},
        "y": {"field": "o", "type": "quantitative"},
        "y2": {"field": "c"},
        "fill": {"condition": {"test": "datum.c > datum.o", "value": "#66cdb0"}, "value": "#ef3a9e"},
        "fillOpacity": {"condition": {"test": "datum.c > datum.o", "value": 0.5}, "value": 1},
        "stroke": {"condition": {"test": "datum.c > datum.o", "value": "#66f2c0"}, "value": "#ef3a9e"}
      }
    },
    {
      "data": {"name": "candles"},
      "transform": [{"filter": "datum.t % 3 === 0 && datum.o > -20"}],
      "mark": {"type": "text", "fontSize": 15, "dy": -23, "align": "center", "baseline": "middle", "color": "#e6e0ec"},
      "encoding": {
        "x": {"field": "t", "type": "quantitative"},
        "y": {"field": "o", "type": "quantitative"},
        "text": {"field": "t", "type": "quantitative"}
      }
    },
    {
      "data": {"name": "close"},
      "mark": {"type": "line", "color": "#66eec6", "strokeWidth": 1.8},
      "encoding": {
        "x": {"field": "t", "type": "quantitative"},
        "y": {"field": "v", "type": "quantitative"}
      }
    },
    {
      "data": {"name": "ma"},
      "mark": {"type": "line", "strokeWidth": 1.8, "opacity": 0.9},
      "encoding": {
        "x": {"field": "t", "type": "quantitative"},
        "y": {"field": "v", "type": "quantitative"},
        "color": {"field": "s", "type": "nominal", "legend": null,
          "scale": {"domain": ["SMA13","SMA34","SMA55","SMA138","EMA13","EMA55","EMA138"], "range": ["#3f66e6","#4a44d8","#5046dc","#2f74e6","#e4cf3a","#e39a38","#d8cc3a"]}}
      }
    },
    {
      "data": {"name": "cloud"},
      "mark": {"type": "line", "color": "#e2bb30", "strokeWidth": 1.8},
      "encoding": {
        "x": {"field": "t", "type": "quantitative"},
        "y": {"field": "v", "type": "quantitative"}
      }
    },
    {
      "data": {"name": "malabels"},
      "mark": {"type": "text", "fontSize": 15, "align": "left", "baseline": "middle", "opacity": 0.85},
      "encoding": {
        "x": {"field": "t", "type": "quantitative"},
        "y": {"field": "v", "type": "quantitative"},
        "text": {"field": "s"},
        "color": {"field": "s", "type": "nominal", "legend": null,
          "scale": {"domain": ["SMA13","SMA34","SMA55","SMA138","EMA13","EMA55","EMA138"], "range": ["#3f66e6","#4a44d8","#5046dc","#2f74e6","#e4cf3a","#e39a38","#d8cc3a"]}}
      }
    },
    {
      "data": {"name": "signal"},
      "mark": {"type": "rule", "color": "#d9c9de", "strokeWidth": 2},
      "encoding": {
        "x": {"field": "t", "type": "quantitative"},
        "y": {"field": "base", "type": "quantitative"},
        "y2": {"datum": 960}
      }
    },
    {
      "data": {"name": "signal"},
      "mark": {"type": "point", "shape": "triangle-down", "size": 2000, "filled": true, "color": "#56c2f6", "opacity": 1},
      "encoding": {
        "x": {"field": "t", "type": "quantitative"},
        "y": {"field": "base", "type": "quantitative"}
      }
    },
    {
      "data": {"name": "signal"},
      "mark": {"type": "point", "shape": "circle", "size": 110, "filled": true, "color": "#56b8ee", "opacity": 1},
      "encoding": {
        "x": {"field": "t", "type": "quantitative"},
        "y": {"field": "v", "type": "quantitative"}
      }
    }
  ]
}
